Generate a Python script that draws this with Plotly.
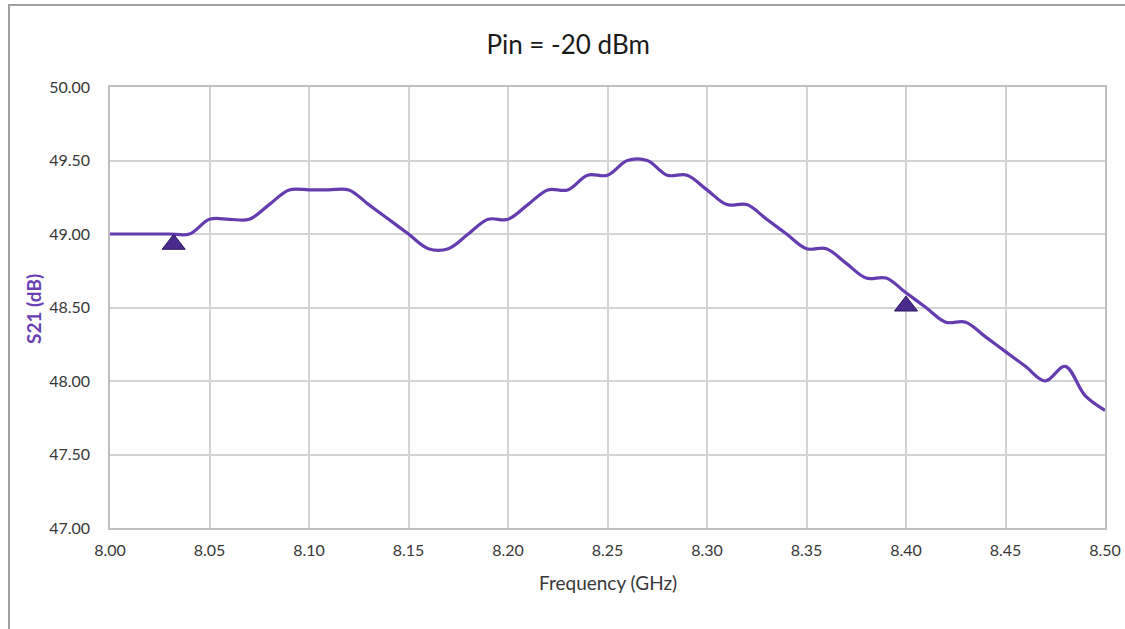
import plotly.graph_objects as go

# Data
freq_ghz = [8.00, 8.01, 8.02, 8.03, 8.04, 8.05, 8.06, 8.07, 8.08, 8.09,
            8.10, 8.11, 8.12, 8.13, 8.14, 8.15, 8.16, 8.17, 8.18, 8.19,
            8.20, 8.21, 8.22, 8.23, 8.24, 8.25, 8.26, 8.27, 8.28, 8.29,
            8.30, 8.31, 8.32, 8.33, 8.34, 8.35, 8.36, 8.37, 8.38, 8.39,
            8.40, 8.41, 8.42, 8.43, 8.44, 8.45, 8.46, 8.47, 8.48, 8.49, 8.50]
s21_db = [49.00, 49.00, 49.00, 49.00, 49.00, 49.10, 49.10, 49.10, 49.20, 49.30,
          49.30, 49.30, 49.30, 49.20, 49.10, 49.00, 48.90, 48.90, 49.00, 49.10,
          49.10, 49.20, 49.30, 49.30, 49.40, 49.40, 49.50, 49.50, 49.40, 49.40,
          49.30, 49.20, 49.20, 49.10, 49.00, 48.90, 48.90, 48.80, 48.70, 48.70,
          48.60, 48.50, 48.40, 48.40, 48.30, 48.20, 48.10, 48.00, 48.10, 47.90, 47.80]

marker_freq = [8.032, 8.400]
marker_s21 = [48.93, 48.51]

x_ticks = [8.00, 8.05, 8.10, 8.15, 8.20, 8.25, 8.30, 8.35, 8.40, 8.45, 8.50]
y_ticks = [47.00, 47.50, 48.00, 48.50, 49.00, 49.50, 50.00]

title_text = "Pin = -20 dBm"
x_title = "Frequency (GHz)"
y_title = "S21 (dB)"

FONT = "Lato"
LINE_COLOR = "#653cb0"
TEXT_COLOR = "#383838"
GRID_COLOR = "#d4d4d4"

fig = go.Figure()
fig.add_trace(go.Scatter(
    x=freq_ghz, y=s21_db, mode="lines",
    line=dict(color=LINE_COLOR, width=3.2, shape="spline", smoothing=1.0),
    hoverinfo="x+y", showlegend=False,
))
fig.add_trace(go.Scatter(
    x=marker_freq, y=marker_s21, mode="markers",
    marker=dict(symbol="triangle-up", size=20, color="#4a2a8c",
                line=dict(color="#2d1b5e", width=1)),
    showlegend=False,
))

axis_common = dict(
    showgrid=True, gridcolor=GRID_COLOR, gridwidth=1.5,
    showline=True, linecolor="#c0c0c0", linewidth=1.5, mirror=True,
    zeroline=False, ticks="", tickformat=".2f", automargin=False,
    tickfont=dict(family=FONT, size=16, color=TEXT_COLOR),
)

fig.update_xaxes(range=[8.0, 8.5], tickvals=x_ticks, ticklabelstandoff=7, **axis_common)
fig.update_yaxes(range=[47.0, 50.0], tickvals=y_ticks, ticklabelstandoff=15, **axis_common)

fig.update_layout(
    width=1125, height=629,
    margin=dict(l=110, r=20, t=87, b=101, autoexpand=False),
    paper_bgcolor="white", plot_bgcolor="white",
    font=dict(family=FONT, color=TEXT_COLOR),
    title=dict(text=title_text, x=0.505, xref="container", xanchor="center",
               y=1 - 45 / 629, yref="container", yanchor="middle",
               font=dict(family=FONT, size=26, color="#1a1a1a")),
    annotations=[
        dict(text=x_title, xref="paper", yref="paper", x=0.5, y=(528 - 582) / 441,
             xanchor="center", yanchor="middle", showarrow=False,
             font=dict(family=FONT, size=19, color=TEXT_COLOR)),
        dict(text="<b>" + y_title + "</b>", xref="paper", yref="paper",
             x=(33 - 110) / 995, y=(528 - 309) / 441, textangle=-90,
             xanchor="center", yanchor="middle", showarrow=False,
             font=dict(family=FONT, size=19, color="#6a3fb4")),
    ],
    shapes=[
        dict(type="rect", xref="paper", yref="paper",
             x0=(9 - 110) / 995, x1=(1135 - 110) / 995,
             y0=(528 - 640) / 441, y1=(528 - 5) / 441,
             line=dict(color="#a0a0a0", width=2), layer="below"),
    ],
)

fig.write_html("out.html", config={"displayModeBar": False},
               post_script="document.body.style.margin='0';")
